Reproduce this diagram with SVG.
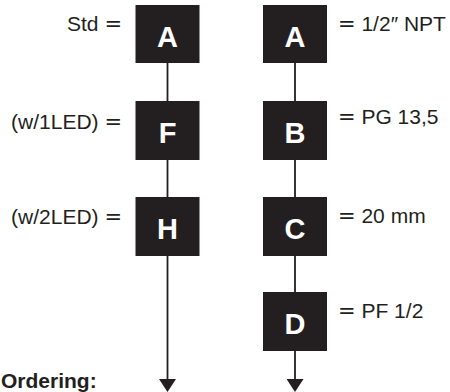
<svg xmlns="http://www.w3.org/2000/svg" width="450" height="392" viewBox="0 0 450 392">
<style>
.box{fill:#231f20}
.let{font-family:"Liberation Sans",Arial,sans-serif;font-weight:bold;font-size:29px;fill:#fff;text-anchor:middle}
.lbl{font-family:"Liberation Sans",Arial,sans-serif;font-size:21px;fill:#231f20}
.eq{font-family:"DejaVu Sans",sans-serif;font-size:21px}
.end{text-anchor:end}
.conn{stroke:#231f20;stroke-width:1.8;fill:none}
.title{font-family:"Liberation Sans",Arial,sans-serif;font-weight:bold;font-size:21px;fill:#231f20}
</style>
<defs>
<marker id="arr" viewBox="0 0 13 17" refX="7" refY="8.5" markerWidth="13" markerHeight="17" markerUnits="userSpaceOnUse" orient="auto">
<path d="M0,0 L13,8.5 L0,17 z" fill="#231f20"/>
</marker>
</defs>
<g id="connectors">
<line class="conn" x1="167.5" y1="63" x2="167.5" y2="101"/>
<line class="conn" x1="167.5" y1="160" x2="167.5" y2="197"/>
<line class="conn" x1="167.5" y1="256" x2="167.5" y2="386" marker-end="url(#arr)"/>
<line class="conn" x1="295" y1="63" x2="295" y2="101"/>
<line class="conn" x1="295" y1="160" x2="295" y2="197"/>
<line class="conn" x1="295" y1="256" x2="295" y2="292"/>
<line class="conn" x1="295" y1="351" x2="295" y2="386" marker-end="url(#arr)"/>
</g>
<g id="left-A">
<rect class="box" x="135.5" y="5" width="64" height="58"/>
<text class="let" x="167.5" y="47">A</text>
<text class="lbl end" x="122" y="31">Std <tspan class="eq">=</tspan></text>
</g>
<g id="left-F">
<rect class="box" x="135.5" y="101" width="64" height="59"/>
<text class="let" x="167.5" y="143">F</text>
<text class="lbl end" x="122" y="129">(w/1LED) <tspan class="eq">=</tspan></text>
</g>
<g id="left-H">
<rect class="box" x="135.5" y="197" width="64" height="59"/>
<text class="let" x="167.5" y="239">H</text>
<text class="lbl end" x="122" y="224">(w/2LED) <tspan class="eq">=</tspan></text>
</g>
<g id="right-A">
<rect class="box" x="263" y="5" width="64" height="58"/>
<text class="let" x="295" y="47">A</text>
<text class="lbl" x="338" y="31"><tspan class="eq">=</tspan> 1/2″ NPT</text>
</g>
<g id="right-B">
<rect class="box" x="263" y="101" width="64" height="59"/>
<text class="let" x="295" y="143">B</text>
<text class="lbl" x="338" y="124"><tspan class="eq">=</tspan> PG 13,5</text>
</g>
<g id="right-C">
<rect class="box" x="263" y="197" width="64" height="59"/>
<text class="let" x="295" y="239">C</text>
<text class="lbl" x="338" y="223"><tspan class="eq">=</tspan> 20 mm</text>
</g>
<g id="right-D">
<rect class="box" x="263" y="292" width="64" height="59"/>
<text class="let" x="295" y="334">D</text>
<text class="lbl" x="338" y="318"><tspan class="eq">=</tspan> PF 1/2</text>
</g>
<text class="title" x="1" y="388">Ordering:</text>
</svg>
